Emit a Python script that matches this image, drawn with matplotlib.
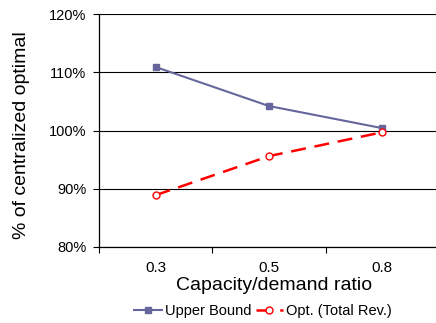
import matplotlib
matplotlib.use("Agg")
import matplotlib.pyplot as plt
from matplotlib.ticker import FuncFormatter

categories = ["0.3", "0.5", "0.8"]
upper_bound = [110.9, 104.2, 100.4]
opt_total_rev = [88.9, 95.6, 99.7]
y_ticks = [80, 90, 100, 110, 120]

plt.rcParams["font.family"] = ["Liberation Sans", "DejaVu Sans"]

fig = plt.figure(figsize=(4.36, 3.23), dpi=100)
ax = fig.add_axes([99 / 436, 1 - 247 / 323, 340 / 436, 233 / 323])

x = list(range(len(categories)))
ax.plot(x, upper_bound, color="#66669C", lw=1.5, marker="s", ms=5,
        label="Upper Bound")
ax.plot(x, opt_total_rev, color="#FF0000", lw=1.8, ls=(0, (6, 3.5)),
        marker="o", ms=5, mfc="white", mec="#FF0000", label="Opt. (Total Rev.)")

ax.set_xlim(-0.5, 2.5)
ax.set_ylim(80, 120)
ax.set_yticks(y_ticks)
ax.yaxis.set_major_formatter(FuncFormatter(lambda v, p: f"{v:.0f}%"))
ax.set_xticks(x)
ax.set_xticklabels(categories, fontsize=11)
ax.set_xticks([-0.5, 0.5, 1.5, 2.5], minor=True)
ax.tick_params(axis="x", which="major", length=0, pad=10)
ax.tick_params(axis="x", which="minor", length=4, width=0.8)
ax.tick_params(axis="y", length=4, width=0.8, labelsize=10.5, pad=5)
ax.grid(axis="y", color="black", lw=0.8)
ax.set_axisbelow(True)
for s in ("top", "right"):
    ax.spines[s].set_visible(False)
for s in ("left", "bottom"):
    ax.spines[s].set_linewidth(0.9)

ax.set_xlabel("Capacity/demand ratio", fontsize=14)
ax.xaxis.set_label_coords((274 - 99) / 340, -(277 - 247) / 233)
ax.xaxis.label.set_va("top")
ax.set_ylabel("% of centralized optimal", fontsize=14)
ax.yaxis.set_label_coords(-(99 - 22) / 340, (247 - 135) / 233)
ax.yaxis.label.set_va("center")

fig.legend(loc="center", bbox_to_anchor=(263 / 436, 1 - 311 / 323), ncol=2,
           frameon=False, fontsize=10.5, handlelength=1.9, columnspacing=0.3,
           handletextpad=0.2)

fig.savefig("out.png", dpi=100)
